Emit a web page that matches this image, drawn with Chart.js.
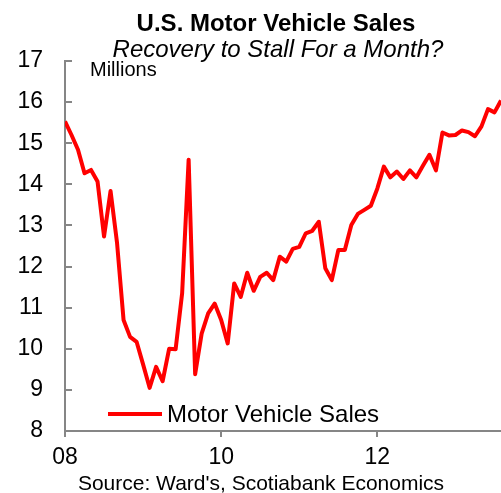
<!DOCTYPE html>
<html>
<head>
<meta charset="utf-8">
<title>U.S. Motor Vehicle Sales</title>
<script src="https://cdn.jsdelivr.net/npm/chart.js@4"></script>
<style>
    html, body { margin: 0; padding: 0; background: #ffffff; }
    #wrap { width: 501px; height: 493px; position: relative; }
</style>
</head>
<body>
<div id="wrap"><canvas id="sales-chart"></canvas></div>
<script>
// Vendas mensais (SAAR, milhões) - jan/2008 a ago/2013
const sales2008 = [15.53, 15.20, 14.84, 14.27, 14.35, 14.07, 12.73, 13.84, 12.57, 10.70, 10.29, 10.17];
const sales2009 = [9.62, 9.05, 9.56, 9.21, 10.00, 9.99, 11.35, 14.60, 9.38, 10.37, 10.86, 11.10];
const sales2010 = [10.70, 10.13, 11.59, 11.26, 11.85, 11.41, 11.75, 11.85, 11.67, 12.24, 12.12, 12.43];
const sales2011 = [12.48, 12.81, 12.87, 13.09, 11.96, 11.67, 12.40, 12.40, 13.01, 13.28, 13.38, 13.48];
const sales2012 = [13.90, 14.43, 14.17, 14.31, 14.13, 14.34, 14.17, 14.45, 14.72, 14.34, 15.26, 15.19];
const sales2013 = [15.20, 15.31, 15.27, 15.17, 15.41, 15.83, 15.75, 16.04];

const salesValues = [].concat(sales2008, sales2009, sales2010, sales2011, sales2012, sales2013);
const monthIndex = salesValues.map((v, i) => i);

const xTickPositions = [0, 24, 48];
const xTickLabels = ['08', '10', '12'];
const yTickValues = [8, 9, 10, 11, 12, 13, 14, 15, 16, 17];

const titleText = 'U.S. Motor Vehicle Sales';
const subtitleText = 'Recovery to Stall For a Month?';
const unitText = 'Millions';
const legendText = 'Motor Vehicle Sales';
const sourceText = "Source: Ward's, Scotiabank Economics";

const FONT = '"Liberation Sans", Arial, sans-serif';
const AXIS_COLOR = '#868686';
const LINE_COLOR = '#ff0000';

// Textos, legenda e marcas internas do eixo Y
const decorPlugin = {
    id: 'decor',
    afterDraw(chart) {
        const ctx = chart.ctx;
        const area = chart.chartArea;
        const yScale = chart.scales.y;
        ctx.save();

        // marcas do eixo Y para dentro
        ctx.strokeStyle = AXIS_COLOR;
        ctx.lineWidth = 2;
        yTickValues.forEach(v => {
            const py = Math.round(yScale.getPixelForValue(v));
            ctx.beginPath();
            ctx.moveTo(area.left, py);
            ctx.lineTo(area.left + 7, py);
            ctx.stroke();
        });

        ctx.fillStyle = '#000000';
        ctx.textBaseline = 'alphabetic';

        ctx.textAlign = 'center';
        ctx.font = 'bold 24px ' + FONT;
        ctx.fillText(titleText, 276, 31);
        ctx.font = 'italic 24px ' + FONT;
        ctx.fillText(subtitleText, 278, 57);

        ctx.textAlign = 'left';
        ctx.font = '20px ' + FONT;
        ctx.fillText(unitText, 90, 76);

        // legenda
        ctx.strokeStyle = LINE_COLOR;
        ctx.lineWidth = 4;
        ctx.beginPath();
        ctx.moveTo(108, 414);
        ctx.lineTo(162, 414);
        ctx.stroke();
        ctx.font = '24px ' + FONT;
        ctx.fillText(legendText, 167, 422);

        ctx.textAlign = 'center';
        ctx.font = '21px ' + FONT;
        ctx.fillText(sourceText, 261, 490);

        ctx.restore();
    }
};

const ctx = document.getElementById('sales-chart').getContext('2d');

new Chart(ctx, {
    type: 'line',
    data: {
        datasets: [{
            label: legendText,
            data: monthIndex.map(i => ({ x: i, y: salesValues[i] })),
            borderColor: LINE_COLOR,
            borderWidth: 4,
            pointRadius: 0,
            tension: 0,
            borderJoinStyle: 'round',
            fill: false
        }]
    },
    options: {
        responsive: true,
        maintainAspectRatio: false,
        animation: false,
        events: [],
        layout: { padding: { top: 61, left: 0, right: 0, bottom: 0 } },
        plugins: {
            legend: { display: false },
            tooltip: { enabled: false },
            title: { display: false }
        },
        scales: {
            x: {
                type: 'linear',
                min: 0,
                max: salesValues.length - 1,
                afterFit: scale => { scale.height = 62; },
                afterBuildTicks: scale => {
                    scale.ticks = xTickPositions.map(v => ({ value: v }));
                },
                border: { display: true, color: AXIS_COLOR, width: 2 },
                grid: {
                    drawOnChartArea: false,
                    drawTicks: true,
                    tickLength: 6,
                    color: AXIS_COLOR,
                    lineWidth: 2
                },
                ticks: {
                    color: '#000000',
                    font: { family: FONT, size: 23 },
                    padding: 7,
                    maxRotation: 0,
                    autoSkip: false,
                    callback: value => xTickLabels[xTickPositions.indexOf(value)]
                }
            },
            y: {
                min: 8,
                max: 17,
                afterFit: scale => { scale.width = 65; },
                afterBuildTicks: scale => {
                    scale.ticks = yTickValues.map(v => ({ value: v }));
                },
                border: { display: true, color: AXIS_COLOR, width: 2 },
                grid: { display: false, drawTicks: false },
                ticks: {
                    color: '#000000',
                    font: { family: FONT, size: 23 },
                    padding: 22
                }
            }
        }
    },
    plugins: [decorPlugin]
});
</script>
</body>
</html>
